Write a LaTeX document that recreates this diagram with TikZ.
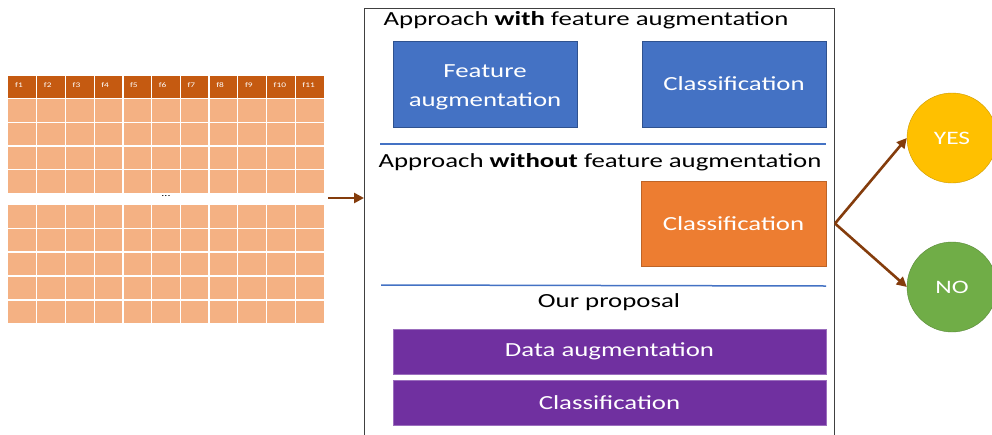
\documentclass[tikz,border=0pt]{standalone}
\usepackage{fontspec}
\setmainfont{Carlito}[FakeStretch=1.34]
\usetikzlibrary{arrows.meta}
\definecolor{hdr}{HTML}{C55A11}
\definecolor{cellc}{HTML}{F4B183}
\definecolor{blueb}{HTML}{4472C4}
\definecolor{blued}{HTML}{2F528F}
\definecolor{orangeb}{HTML}{ED7D31}
\definecolor{purpleb}{HTML}{7030A0}
\definecolor{yesc}{HTML}{FFC000}
\definecolor{noc}{HTML}{70AD47}
\definecolor{arrc}{HTML}{843C0C}
\tikzset{
  boxbase/.style={draw=blued, line width=0.8pt, text=white, align=center, inner sep=0pt,
    font=\fontsize{20}{24}\selectfont},
  bluebox/.style={boxbase, fill=blueb, minimum width=184pt, minimum height=86pt},
  orangebox/.style={boxbase, fill=orangeb, draw=orangeb!80!black, minimum width=185pt, minimum height=85pt},
  purplebox/.style={boxbase, fill=purpleb, draw=purpleb!70!white, minimum width=433pt, minimum height=45pt},
  heading/.style={font=\fontsize{20}{24}\selectfont, inner sep=0pt},
  sepline/.style={draw=blueb, line width=1.5pt},
  answer/.style={circle, draw=#1!80!black, fill=#1, text=white, minimum size=90pt, inner sep=0pt,
    font=\fontsize{19}{22}\selectfont},
  arr/.style={draw=arrc, line width=2.6pt, -{Triangle[length=10pt,width=10pt]}},
  gridline/.style={draw=white, line width=1.2pt},
  flabel/.style={text=white, font=\fontsize{7}{8}\selectfont, anchor=west, inner sep=0pt}
}
\begin{document}
\begin{tikzpicture}[x=1pt,y=-1pt]
\useasboundingbox (0,0) rectangle (992,434);
\fill[white] (0,0) rectangle (992,434);
% table
\fill[hdr] (8,76) rectangle (324,98);
\fill[cellc] (8,99) rectangle (324,193);
\fill[cellc] (8,205) rectangle (324,323);
\foreach \i in {1,...,10} {
  \draw[gridline] ({8+\i*28.727},76) -- ({8+\i*28.727},193);
  \draw[gridline] ({8+\i*28.727},205) -- ({8+\i*28.727},323);
}
\foreach \y in {98.5,122.5,146,169.5,228.5,252,276,300} {
  \draw[gridline] (8,\y) -- (324,\y);
}
\foreach \i in {1,...,11} {
  \node[flabel] (f\i) at ({8+(\i-1)*28.727+7},85) {f\i};
}
\node[font=\fontsize{9}{10}\selectfont, inner sep=0pt] (dots) at (166,196) {...};
\coordinate (tabout) at (328,198);
% main box
\node[draw=black!75, line width=1pt, minimum width=470pt, minimum height=445pt, anchor=north west, inner sep=0pt] (main) at (364,8) {};
\draw[arr] (tabout) -- (tabout -| main.west);
\node[heading] (t1) at (586,20) {Approach \textbf{with} feature augmentation};
\node[bluebox] (fa) at (485,84) {\raisebox{-3pt}[\height][\depth]{\parbox{180pt}{\centering Feature\\[5pt]augmentation}}};
\node[bluebox] (c1) at (734,84) {Classification};
\draw[sepline] (380,144) -- (826,144);
\node[heading] (t2) at (600,162) {Approach \textbf{without} feature augmentation};
\node[orangebox] (c2) at (733.5,223.5) {Classification};
\draw[sepline] (381,285) -- (826,286);
\node[heading] (t3) at (609,302) {Our proposal};
\node[purplebox] (da) at (609.5,351.5) {Data augmentation};
\node[purplebox] (c3) at (609.5,402.5) {Classification};
% answers
\node[answer=yesc] (yes) at (952,138) {YES};
\node[answer=noc] (no) at (952,287) {NO};
\coordinate (split) at (c2.east -| main.east);
\draw[arr] (split) -- (yes.west);
\draw[arr] (split) -- (no.west);
\end{tikzpicture}
\end{document}
